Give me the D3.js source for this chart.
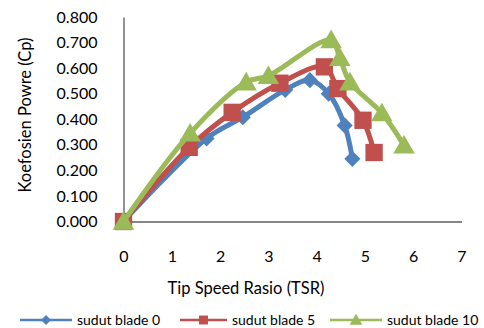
<!DOCTYPE html>
<html>
<head>
<meta charset="utf-8">
<script src="https://cdn.jsdelivr.net/npm/d3@7"></script>
<style>
  html, body { margin: 0; padding: 0; background: #fff; }
  svg { display: block; font-family: Lato, "Open Sans", sans-serif; }
</style>
</head>
<body>
<svg id="chart" width="484" height="328"></svg>
<script>
// Power coefficient vs tip speed ratio for three blade angles
const seriesNames = ["sudut blade 0", "sudut blade 5", "sudut blade 10"];
const tsrBlade0 = [0, 1.72, 2.47, 3.35, 3.86, 4.25, 4.58, 4.74];
const cpBlade0  = [0, 0.325, 0.408, 0.515, 0.553, 0.500, 0.376, 0.245];
const tsrBlade5 = [0, 1.36, 2.25, 3.24, 4.16, 4.44, 4.96, 5.19];
const cpBlade5  = [0, 0.290, 0.427, 0.541, 0.605, 0.520, 0.396, 0.270];
const tsrBlade10 = [0, 1.38, 2.54, 3.00, 4.30, 4.48, 4.69, 5.35, 5.81];
const cpBlade10  = [0, 0.345, 0.545, 0.570, 0.710, 0.640, 0.545, 0.424, 0.298];
const xTicks = [0, 1, 2, 3, 4, 5, 6, 7];
const yTicks = [0, 0.1, 0.2, 0.3, 0.4, 0.5, 0.6, 0.7, 0.8];
const colors = ["#4F81BD", "#C0504D", "#9BBB59"];

const series = [
  { name: seriesNames[0], xs: tsrBlade0, ys: cpBlade0 },
  { name: seriesNames[1], xs: tsrBlade5, ys: cpBlade5 },
  { name: seriesNames[2], xs: tsrBlade10, ys: cpBlade10 }
].map((s, i) => ({ ...s, color: colors[i],
  points: s.xs.map((x, j) => ({ x, y: s.ys[j] })) }));

// marker shapes: diamond = square turned 45deg, square, triangle
const markerDefs = [
  { type: d3.symbolSquare, size: 130, rotate: 45, dy: 0 },
  { type: d3.symbolSquare, size: 300, rotate: 0, dy: 0 },
  { type: d3.symbolTriangle, size: 200, rotate: 0, dy: 2 }
];
const legendMarkers = [
  { type: d3.symbolSquare, size: 50, rotate: 45, dy: 0 },
  { type: d3.symbolSquare, size: 80, rotate: 0, dy: 0 },
  { type: d3.symbolTriangle, size: 70, rotate: 0, dy: 1 }
];

const svg = d3.select("#chart");
const x = d3.scaleLinear().domain([0, 7]).range([123.5, 461.5]);
const y = d3.scaleLinear().domain([0, 0.8]).range([221.5, 17]);

// axes
const xAxis = svg.append("g").attr("transform", `translate(0,${y(0)})`)
  .call(d3.axisBottom(x).tickValues(xTicks).tickSize(0).tickPadding(29).tickFormat(d3.format("d")));
const yAxis = svg.append("g").attr("transform", `translate(${x(0)},0)`)
  .call(d3.axisLeft(y).tickValues(yTicks).tickSize(0).tickPadding(26).tickFormat(d3.format(".3f")));
[xAxis, yAxis].forEach(g => {
  g.select(".domain").attr("stroke", "#868686").attr("stroke-width", 1.8);
  g.selectAll("text").attr("fill", "#000").attr("font-size", 16)
    .attr("font-family", "Lato, 'Open Sans', sans-serif");
});

// axis titles
svg.append("text").attr("x", 246).attr("y", 294).attr("text-anchor", "middle")
  .attr("font-size", 16.5).attr("fill", "#000").text("Tip Speed Rasio (TSR)");
svg.append("text").attr("transform", "translate(31,115) rotate(-90)")
  .attr("text-anchor", "middle").attr("font-size", 16.5).attr("fill", "#000")
  .text("Koefosien Powre (Cp)");

// lines and markers
const line = d3.line().x(d => x(d.x)).y(d => y(d.y)).curve(d3.curveCatmullRom.alpha(0.5));
series.forEach((s, i) => {
  const m = markerDefs[i];
  svg.append("path").datum(s.points).attr("d", line)
    .attr("fill", "none").attr("stroke", s.color).attr("stroke-width", 5)
    .attr("stroke-linejoin", "round");
  svg.append("g").selectAll("path").data(s.points).join("path")
    .attr("transform", d => `translate(${x(d.x)},${y(d.y) + m.dy}) rotate(${m.rotate})`)
    .attr("d", d3.symbol().type(m.type).size(m.size))
    .attr("fill", s.color);
});

// legend
const legendItems = [
  { x0: 20, x1: 72, tx: 77 },
  { x0: 180, x1: 227, tx: 232 },
  { x0: 330, x1: 382, tx: 387 }
];
const ly = 320;
series.forEach((s, i) => {
  const it = legendItems[i];
  const m = legendMarkers[i];
  const g = svg.append("g");
  g.append("line").attr("x1", it.x0).attr("x2", it.x1).attr("y1", ly).attr("y2", ly)
    .attr("stroke", s.color).attr("stroke-width", 2.5);
  g.append("path").attr("transform", `translate(${(it.x0 + it.x1) / 2},${ly + m.dy}) rotate(${m.rotate})`)
    .attr("d", d3.symbol().type(m.type).size(m.size)).attr("fill", s.color);
  g.append("text").attr("x", it.tx).attr("y", ly + 5).attr("font-size", 14)
    .attr("fill", "#000").text(s.name);
});
</script>
</body>
</html>
